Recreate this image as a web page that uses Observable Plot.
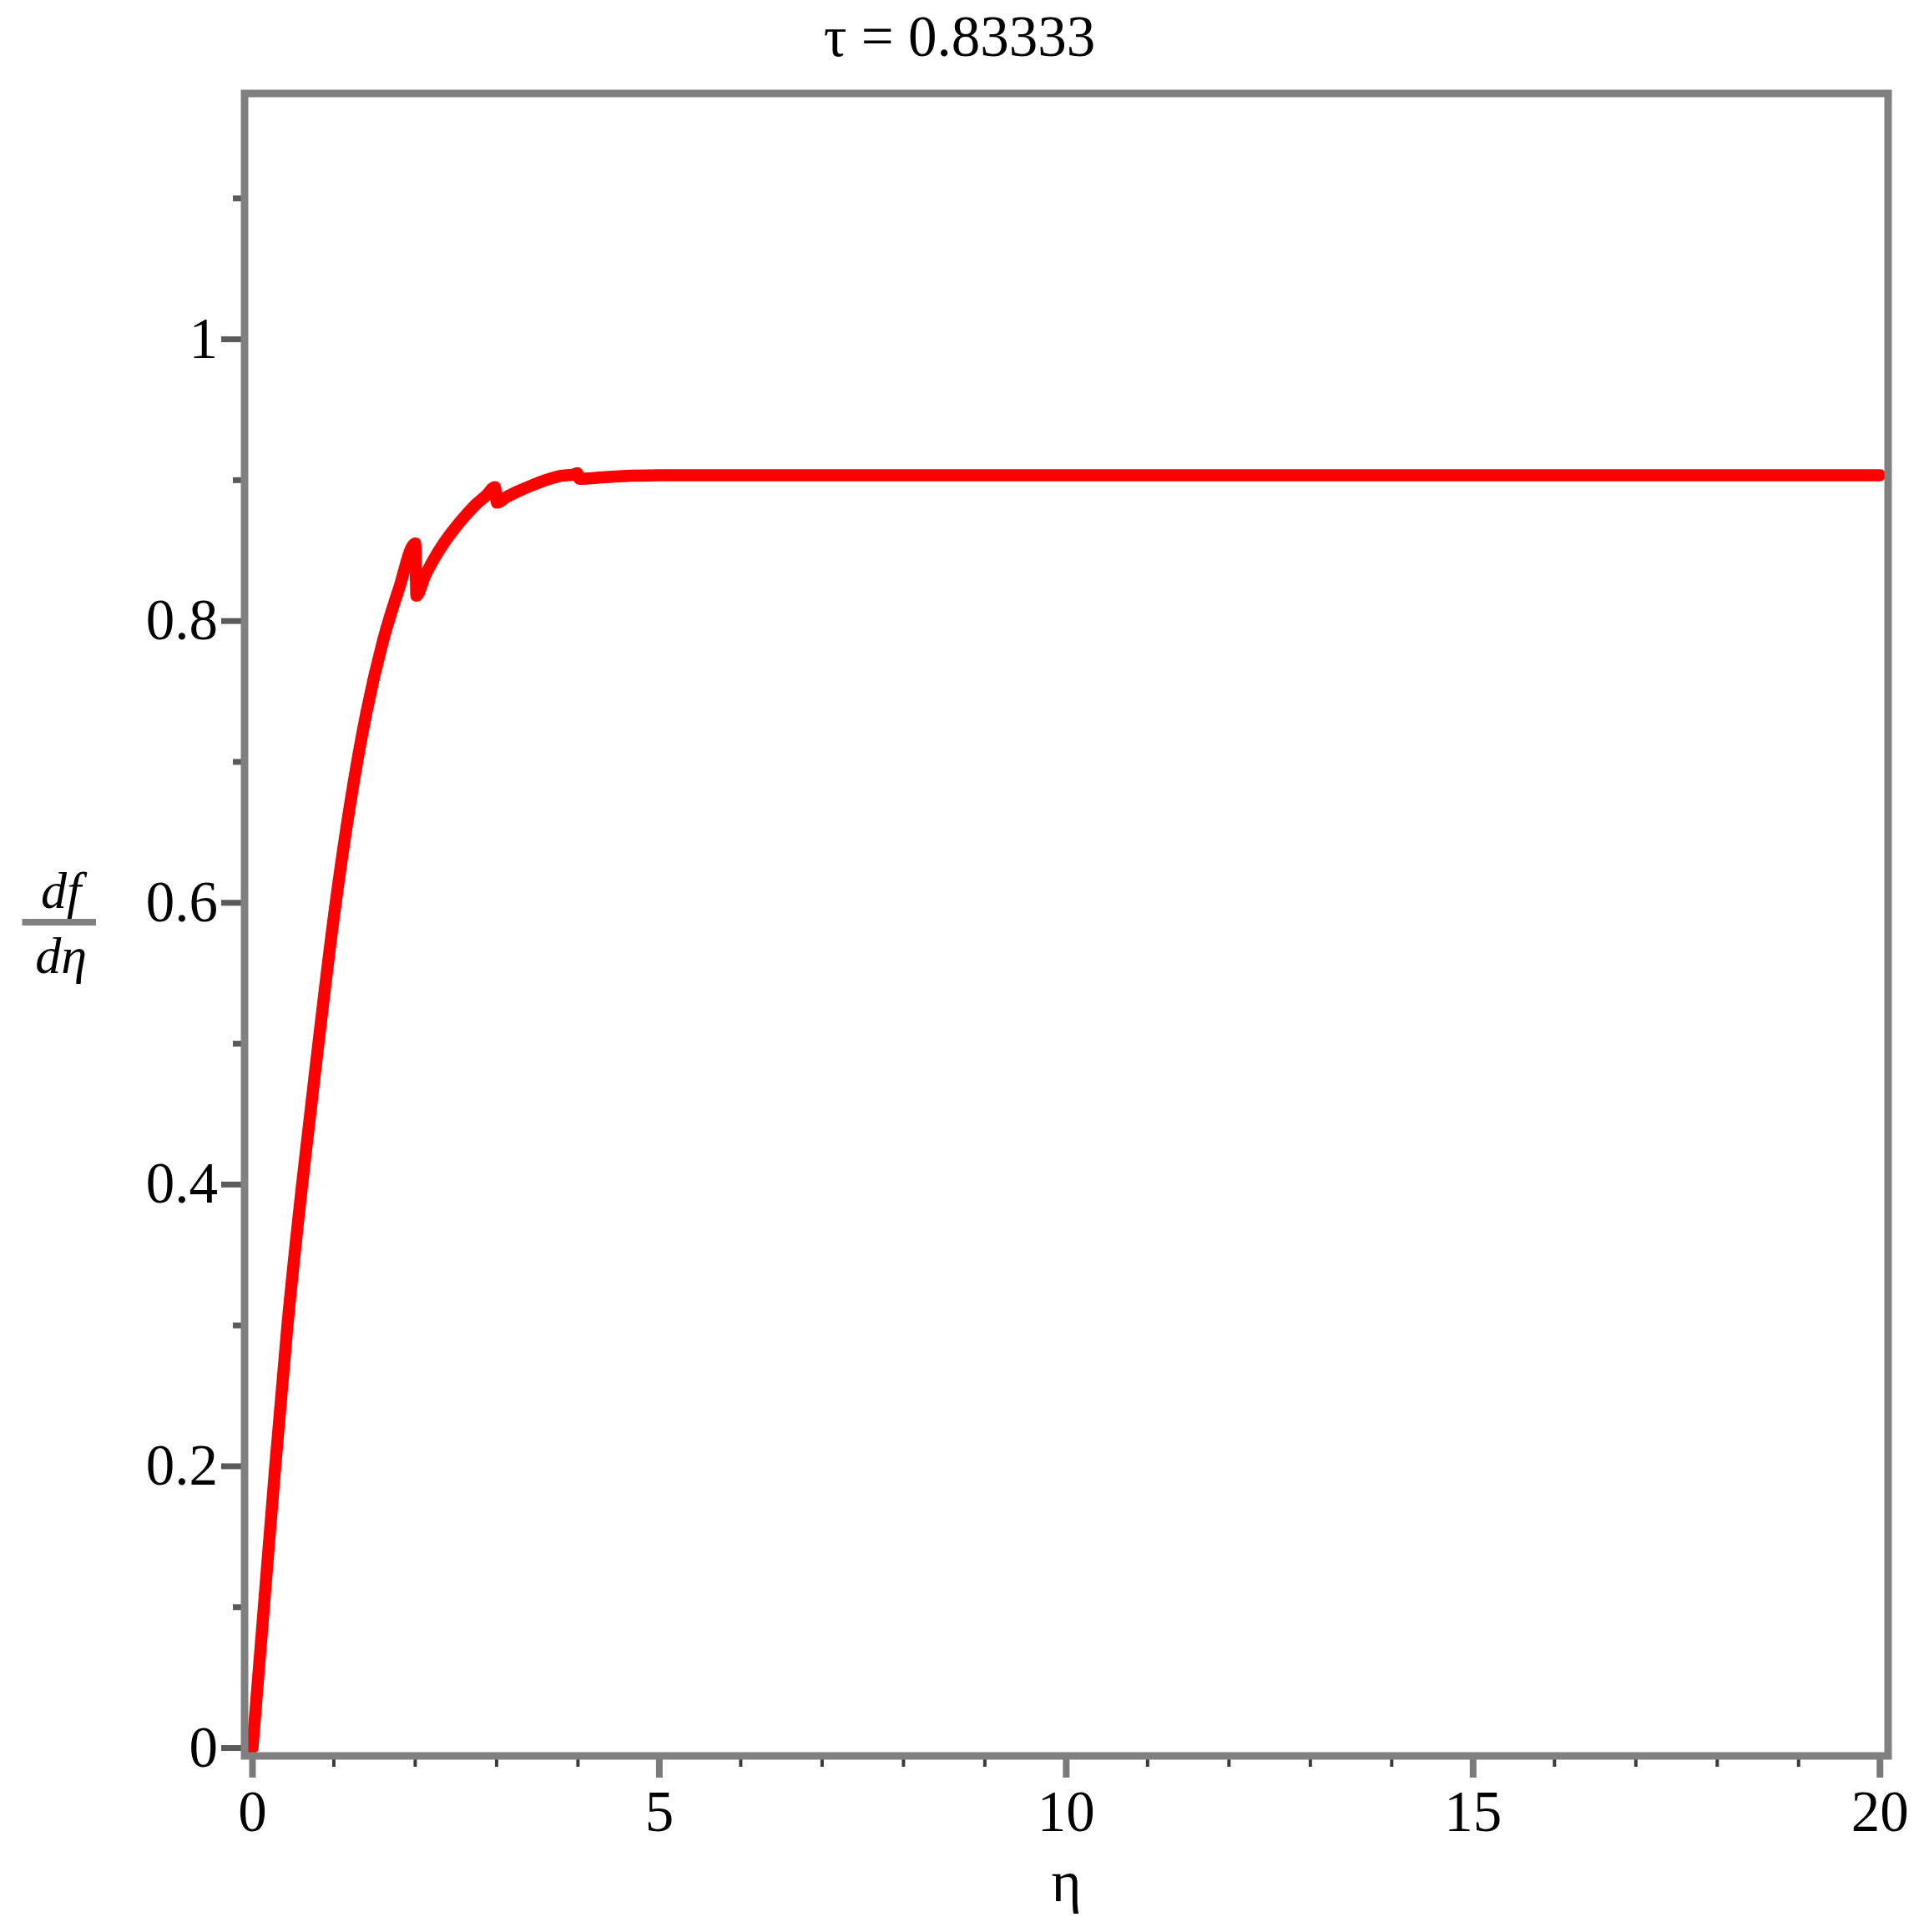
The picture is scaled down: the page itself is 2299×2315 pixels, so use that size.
<!DOCTYPE html>
<html>
<head>
<meta charset="utf-8">
<script src="https://cdn.jsdelivr.net/npm/d3@7"></script>
<script src="https://cdn.jsdelivr.net/npm/@observablehq/plot@0.6"></script>
<style>
  html, body { margin: 0; padding: 0; background: #fff; }
  #title { width: 2299px; height: 70px; padding-top: 10px; line-height: 69px; text-align: center;
           font-family: "Liberation Serif", serif; font-size: 69px; color: #000; }
  #chart { width: 2299px; }
</style>
</head>
<body>
<div id="title">τ = 0.83333</div>
<div id="chart"></div>
<script>
// ---- data ----
const eta = [0, 0.14, 0.28, 0.43, 0.61, 0.80, 1.00, 1.20, 1.40, 1.60, 1.80, 2.00,
             2.015, 2.12, 2.24, 2.36, 2.475, 2.62, 2.75, 2.87, 2.98,
             3.005, 3.12, 3.26, 3.42, 3.60, 3.78, 3.95, 3.99,
             4.02, 4.30, 4.60, 5.0, 10, 15, 20];
const dfdeta = [0, 0.100, 0.200, 0.300, 0.400, 0.495, 0.590, 0.670, 0.735, 0.785, 0.823, 0.855,
                0.818, 0.832, 0.845, 0.856, 0.865, 0.875, 0.883, 0.889, 0.895,
                0.884, 0.888, 0.892, 0.896, 0.900, 0.903, 0.904, 0.905,
                0.901, 0.902, 0.903, 0.9035, 0.9035, 0.9035, 0.9035];

const xMajor = [0, 5, 10, 15, 20];
const xMajorLabels = ["0", "5", "10", "15", "20"];
const xMinor = [1, 2, 3, 4, 6, 7, 8, 9, 11, 12, 13, 14, 16, 17, 18, 19];
const yMajor = [0, 0.2, 0.4, 0.6, 0.8, 1];
const yMajorLabels = ["0", "0.2", "0.4", "0.6", "0.8", "1"];
const yMinor = [0.1, 0.3, 0.5, 0.7, 0.9, 1.1];

const titleText = "τ = 0.83333";
const xLabel = "η";
const yLabelTop = "df";
const yLabelBottom = "dη";

// ---- build table ----
const rows = eta.map((e, i) => ({eta: e, v: dfdeta[i]}));

const font = "Liberation Serif, Times New Roman, serif";
const W = 2299, H = 2235;
const mL = 292.5, mR = 37.5, mT = 31.5, mB = 211.5;

const plot = Plot.plot({
  width: W,
  height: H,
  marginLeft: mL,
  marginRight: mR,
  marginTop: mT,
  marginBottom: mB,
  style: {fontFamily: font, background: "#fff", overflow: "visible"},
  x: {domain: [-0.097, 20.1]},
  y: {domain: [-0.0056, 1.1745]},
  marks: [
    Plot.line(rows, {x: "eta", y: "v", stroke: "#ff0000", strokeWidth: 14.5, curve: "monotone-x",
                     strokeLinejoin: "miter", strokeMiterlimit: 3}),
    // minor / major ticks
    Plot.axisX(xMinor, {tickSize: 13.5, stroke: "#3a3a3a", strokeWidth: 4, fill: "none", label: null}),
    Plot.axisX(xMajor, {tickSize: 26.5, stroke: "#7a7a7a", strokeWidth: 8, fill: "none", label: null}),
    Plot.axisY(yMinor, {tickSize: 13.5, stroke: "#5a5a5a", strokeWidth: 7, fill: "none", label: null}),
    Plot.axisY(yMajor, {tickSize: 27.5, stroke: "#5a5a5a", strokeWidth: 7, fill: "none", label: null}),
    // tick labels
    Plot.axisX(xMajor, {tickSize: 0, tickPadding: 41, fill: "#000", fontSize: 69, fontFamily: font,
                        tickFormat: d => xMajorLabels[xMajor.indexOf(d)], label: null}),
    Plot.axisY(yMajor, {tickSize: 0, tickPadding: 32, fill: "#000", fontSize: 69, fontFamily: font,
                        tickFormat: d => yMajorLabels[yMajor.indexOf(d)], label: null}),
    // x axis label
    Plot.text([xLabel], {text: d => d, frameAnchor: "bottom", dy: 173.5, lineAnchor: "bottom",
                         fontSize: 69, fontFamily: font, fill: "#000"}),
    // y axis label (fraction)
    Plot.text([yLabelTop], {text: d => d, frameAnchor: "left", dx: -220, dy: -20.5, lineAnchor: "bottom",
                            textAnchor: "middle", fontSize: 62, fontStyle: "italic", fontFamily: font, fill: "#000"}),
    Plot.text([yLabelBottom], {text: d => d, frameAnchor: "left", dx: -220, dy: 57.5, lineAnchor: "bottom",
                               textAnchor: "middle", fontSize: 62, fontStyle: "italic", fontFamily: font, fill: "#000"}),
    Plot.frame({stroke: "#808080", strokeWidth: 9})
  ]
});

// fraction bar of the y label, placed relative to the plot frame
const svg = d3.select(plot);
const midY = (mT + (H - mB)) / 2;
svg.append("line")
  .attr("x1", mL - 266).attr("x2", mL - 177.5)
  .attr("y1", midY - 2.5).attr("y2", midY - 2.5)
  .attr("stroke", "#808080").attr("stroke-width", 8);

document.getElementById("chart").appendChild(plot);
</script>
</body>
</html>
